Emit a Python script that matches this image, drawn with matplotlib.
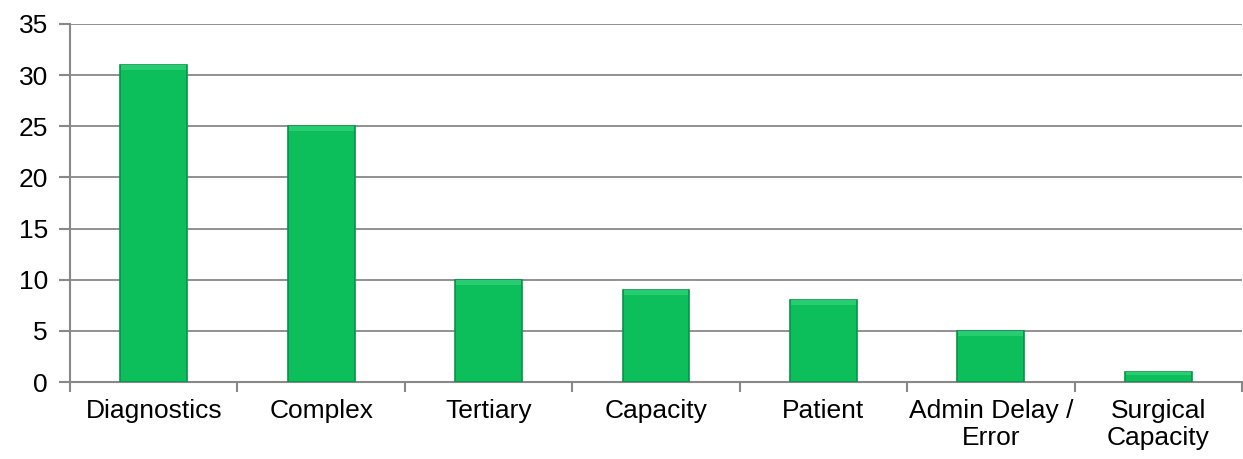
import numpy as np
import matplotlib
matplotlib.use("Agg")
from matplotlib import pyplot as plt

categories = ["Diagnostics", "Complex", "Tertiary", "Capacity", "Patient",
              "Admin Delay /\nError", "Surgical\nCapacity"]
values = [31, 25, 10, 9, 8, 5, 1]

plt.rcParams['font.family'] = ['Liberation Sans', 'DejaVu Sans']

fig = plt.figure(figsize=(12.43, 4.59), dpi=100)
ax = fig.add_axes([70 / 1243, 1 - 382 / 459, 1172 / 1243, 358 / 459])

x = np.arange(len(categories))
bars = ax.bar(x, values, width=0.4, color='#0DBF5A', edgecolor='#08924A',
              linewidth=1.2, zorder=3)
# lighter top bevel
for b in bars:
    h = min(0.5, b.get_height() * 0.3)
    ax.bar(b.get_x() + b.get_width() / 2, h, bottom=b.get_height() - h,
           width=b.get_width() * 0.97, color='#27CD70', linewidth=0, zorder=4)

ax.set_xlim(-0.5, len(categories) - 0.5)
ax.set_ylim(0, 35)
ax.set_yticks(range(0, 36, 5))
ax.set_xticks(x)
ax.set_xticklabels(categories, linespacing=1.2)
ax.set_xticks(np.arange(-0.5, len(categories), 1), minor=True)
ax.tick_params(axis='x', which='major', length=0, pad=12, labelsize=19)
ax.tick_params(axis='x', which='minor', length=7, color='#888888', width=1.5)
ax.tick_params(axis='y', length=8, color='#888888', width=1.5, labelsize=19, pad=8)

ax.grid(axis='y', color='#888888', linewidth=1.3, zorder=0)
ax.set_axisbelow(True)
for s in ['top', 'right']:
    ax.spines[s].set_visible(False)
for s in ['left', 'bottom']:
    ax.spines[s].set_color('#888888')
    ax.spines[s].set_linewidth(1.5)

fig.savefig('out.png', dpi=100)
